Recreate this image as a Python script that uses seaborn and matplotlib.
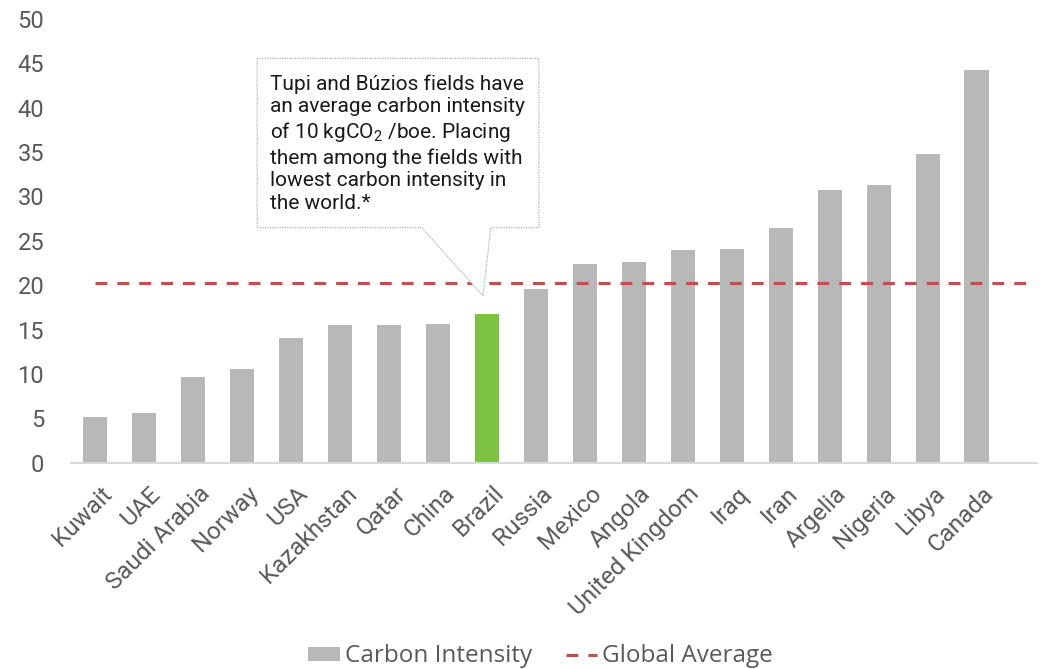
import matplotlib
matplotlib.use("Agg")
import matplotlib.pyplot as plt
import matplotlib.transforms as mtransforms
from matplotlib.patches import Polygon, Patch
from matplotlib.lines import Line2D
import seaborn as sns
import pandas as pd

# Carbon intensity by country (kgCO2/boe)
countries = ["Kuwait", "UAE", "Saudi Arabia", "Norway", "USA", "Kazakhstan",
             "Qatar", "China", "Brazil", "Russia", "Mexico", "Angola",
             "United Kingdom", "Iraq", "Iran", "Argelia", "Nigeria", "Libya",
             "Canada"]
intensity = [5.2, 5.6, 9.6, 10.6, 14.1, 15.5, 15.5, 15.6, 16.8, 19.6, 22.4,
             22.6, 24.0, 24.1, 26.4, 30.7, 31.3, 34.8, 44.2]
global_average = 20.3
highlight = "Brazil"
y_ticks = [0, 5, 10, 15, 20, 25, 30, 35, 40, 45, 50]

GRAY = "#B8B8B8"
GREEN = "#7DC142"
RED = "#C0504D"
TEXT = "#595959"

sns.set_theme(style="white")
plt.rcParams["font.family"] = ["Roboto", "DejaVu Sans"]
plt.rcParams["mathtext.fontset"] = "custom"
plt.rcParams["mathtext.rm"] = "Roboto"

df = pd.DataFrame({"country": countries, "intensity": intensity})
palette = {c: (GREEN if c == highlight else GRAY) for c in countries}

fig = plt.figure(figsize=(10.56, 6.69), dpi=100)
ax = fig.add_axes([0.0668, 0.3084, 0.9152, 0.6632])

sns.barplot(data=df, x="country", y="intensity", hue="country",
            palette=palette, width=0.5, legend=False, ax=ax,
            saturation=1, linewidth=0)

# global average reference line
ax.plot([0, len(countries)], [global_average, global_average],
        color=RED, lw=2.25, dashes=(3.8, 3.2), solid_capstyle="butt")

ax.set_xlim(-0.5, 19.23)
ax.set_ylim(0, 50)
ax.set_yticks(y_ticks)
ax.set_xlabel("")
ax.set_ylabel("")

for side in ["top", "right", "left"]:
    ax.spines[side].set_visible(False)
ax.spines["bottom"].set_color("#D9D9D9")
ax.spines["bottom"].set_linewidth(1.5)

ax.tick_params(axis="y", length=0, pad=19, labelsize=17, labelcolor=TEXT)
ax.tick_params(axis="x", length=0, pad=14, labelsize=17.5, labelcolor=TEXT)
shift = mtransforms.ScaledTranslation(0.05, 0, fig.dpi_scale_trans)
for lbl in ax.get_xticklabels():
    lbl.set_rotation(45)
    lbl.set_ha("right")
    lbl.set_va("top")
    lbl.set_rotation_mode("anchor")
    lbl.set_transform(lbl.get_transform() + shift)

# callout box with pointer to Brazil
callout = [(3.31, 45.56), (9.06, 45.56), (9.06, 26.49), (8.08, 26.49),
           (7.92, 18.8), (6.67, 26.49), (3.31, 26.49)]
ax.add_patch(Polygon(callout, closed=True, facecolor="white",
                     edgecolor="#B0B0B0", lw=0.9, linestyle=(0, (1, 1)),
                     zorder=5))
note = ("Tupi and Búzios fields have\n"
        "an average carbon intensity\n"
        "of 10 kgCO$_\\mathregular{2}$ /boe. Placing\n"
        "them among the fields with\n"
        "lowest carbon intensity in\n"
        "the world.*")
ax.text(3.57, 43.8, note, fontsize=15, color="#1A1A1A", va="top",
        ha="left", linespacing=1.24, zorder=6)

handles = [Patch(facecolor=GRAY, edgecolor="none", label="Carbon Intensity"),
           Line2D([0], [0], color=RED, lw=2.25, dashes=(3.8, 3.2),
                  label="Global Average")]
fig.legend(handles=handles, loc="center", bbox_to_anchor=(0.512, 0.019),
           ncol=2, frameon=False,
           prop={"family": ["Open Sans", "DejaVu Sans"], "size": 17.5},
           labelcolor=TEXT, handlelength=1.3, handletextpad=0.2,
           columnspacing=1.4, handleheight=0.5)

fig.savefig("out.png", dpi=100, facecolor="white")
